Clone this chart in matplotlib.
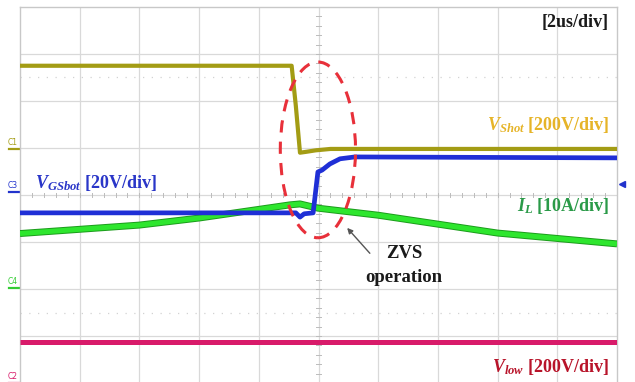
import matplotlib
matplotlib.use("Agg")
import matplotlib.pyplot as plt
from matplotlib.patches import Ellipse

plt.rcParams["mathtext.fontset"] = "custom"
plt.rcParams["mathtext.rm"] = "Liberation Serif:bold"
plt.rcParams["mathtext.it"] = "Liberation Serif:bold:italic"
plt.rcParams["mathtext.bf"] = "Liberation Serif:bold"

# Oscilloscope traces: time in divisions (2 us/div), level in divisions
vshot_t = [0.0, 4.55, 4.62, 4.69, 4.80, 4.95, 5.20, 10.0]
vshot_v = [2.75, 2.75, 1.90, 0.90, 0.92, 0.95, 0.98, 0.98]

vgs_t = [0.0, 4.62, 4.69, 4.76, 4.91, 4.99, 5.06, 5.19, 5.36, 5.61, 10.0]
vgs_v = [-0.38, -0.38, -0.47, -0.40, -0.38, 0.49, 0.53, 0.66, 0.77, 0.81, 0.79]

il_t = [0.0, 2.0, 3.0, 4.52, 4.69, 4.99, 6.0, 8.0, 10.0]
il_v = [-0.82, -0.64, -0.49, -0.21, -0.19, -0.28, -0.43, -0.81, -1.04]

vlow_t = [0.0, 10.0]
vlow_v = [-3.13, -3.13]

# Channel ground markers (level in divisions)
ch_names = ["C1", "C3", "C4", "C2"]
ch_levels = [0.98, 0.06, -1.98, -4.0]
ch_colors = ["#a39c14", "#2233cc", "#33cc33", "#d81b6a"]

fig = plt.figure(figsize=(6.35, 3.82), dpi=100)
fig.patch.set_facecolor("white")
W, H = 635, 382
x0, x1, y0, y1 = 20, 617, 7, 383
ax = fig.add_axes([x0 / W, 1 - y1 / H, (x1 - x0) / W, (y1 - y0) / H])
ax.set_xlim(0, 10)
ax.set_ylim(-4, 4)
ax.set_xticks([])
ax.set_yticks([])
for s in ax.spines.values():
    s.set_color("#c8c8c8")
    s.set_linewidth(1.0)

# graticule
grid_c = "#d9d9d9"
for gx in range(1, 10):
    ax.axvline(gx, color=grid_c, lw=0.9, zorder=0)
for gy in range(-3, 4):
    ax.axhline(gy, color=grid_c, lw=0.9, zorder=0)
for gy in (2.5, -2.5):
    ax.axhline(gy, color="#d2d2d2", lw=0.9, ls=(0, (1, 6)), zorder=0)
# minor ticks on the centre axes
for k in range(0, 51):
    t = k / 5
    ax.plot([t, t], [-0.05, 0.05], color="#bcbcbc", lw=0.7, zorder=0)
for k in range(-20, 21):
    v = k / 5
    ax.plot([4.95, 5.05], [v, v], color="#bcbcbc", lw=0.7, zorder=0)

# traces
ax.plot(vlow_t, vlow_v, color="#d81b6a", lw=3.6, solid_capstyle="butt", zorder=3)
ax.plot(il_t, il_v, color="#1c9c1c", lw=5.0, solid_capstyle="butt", zorder=3)
ax.plot(il_t, il_v, color="#2ee62e", lw=3.6, solid_capstyle="butt", zorder=3)
ax.plot(vgs_t, vgs_v, color="#1f2fd6", lw=3.4, solid_capstyle="butt", zorder=4)
ax.plot(vshot_t, vshot_v, color="#a39c14", lw=3.0, solid_capstyle="butt", zorder=5)

# ZVS region highlight
ax.add_patch(Ellipse((4.99, 0.96), 1.26, 3.74, fill=False, ec="#e8303a",
                     lw=2.2, ls=(0, (4, 3)), zorder=6))

serif = "Liberation Serif"
ax.text(9.87, 3.68, "[2us/div]", ha="right", va="center", fontsize=13,
        fontweight="bold", family=serif, color="#1a1a1a", zorder=7)
ax.text(9.87, 1.48, r"$V_{Shot}$ [200V/div]", ha="right", va="center",
        fontsize=13, fontweight="bold", family=serif, color="#e6b428", zorder=7)
ax.text(0.25, 0.26, r"$V_{GSbot}$ [20V/div]", ha="left", va="center",
        fontsize=13, fontweight="bold", family=serif, color="#2a36c8", zorder=7)
ax.text(9.87, -0.24, r"$I_L$ [10A/div]", ha="right", va="center",
        fontsize=13, fontweight="bold", family=serif, color="#2a9a48", zorder=7)
ax.text(9.87, -3.66, r"$V_{low}$ [200V/div]", ha="right", va="center",
        fontsize=13, fontweight="bold", family=serif, color="#b8142a", zorder=7)
ax.text(6.43, -1.25, "ZVS", ha="center", va="center", fontsize=13.5,
        fontweight="bold", family=serif, color="#1a1a1a", zorder=7)
ax.text(6.43, -1.75, "operation", ha="center", va="center", fontsize=13.5,
        fontweight="bold", family=serif, color="#1a1a1a", zorder=7)
ax.annotate("", xy=(5.48, -0.70), xytext=(5.86, -1.24),
            arrowprops=dict(arrowstyle="-|>", color="#555555", lw=1.0,
                            mutation_scale=8, shrinkA=0, shrinkB=0), zorder=7)

# channel markers at the left edge, trigger marker at the right edge
for name, lvl, c in zip(ch_names, ch_levels, ch_colors):
    ax.plot([-0.18, -0.02], [lvl, lvl], color=c, lw=1.6, clip_on=False)
    ax.text(-0.12, lvl + 0.05, name, ha="center", va="bottom", fontsize=5.5,
            color=c, clip_on=False, rotation=0)
ax.plot([10.08], [0.23], marker="<", color="#2233cc", markersize=4.5,
        clip_on=False)

fig.savefig("out.png", dpi=100, facecolor="white")
